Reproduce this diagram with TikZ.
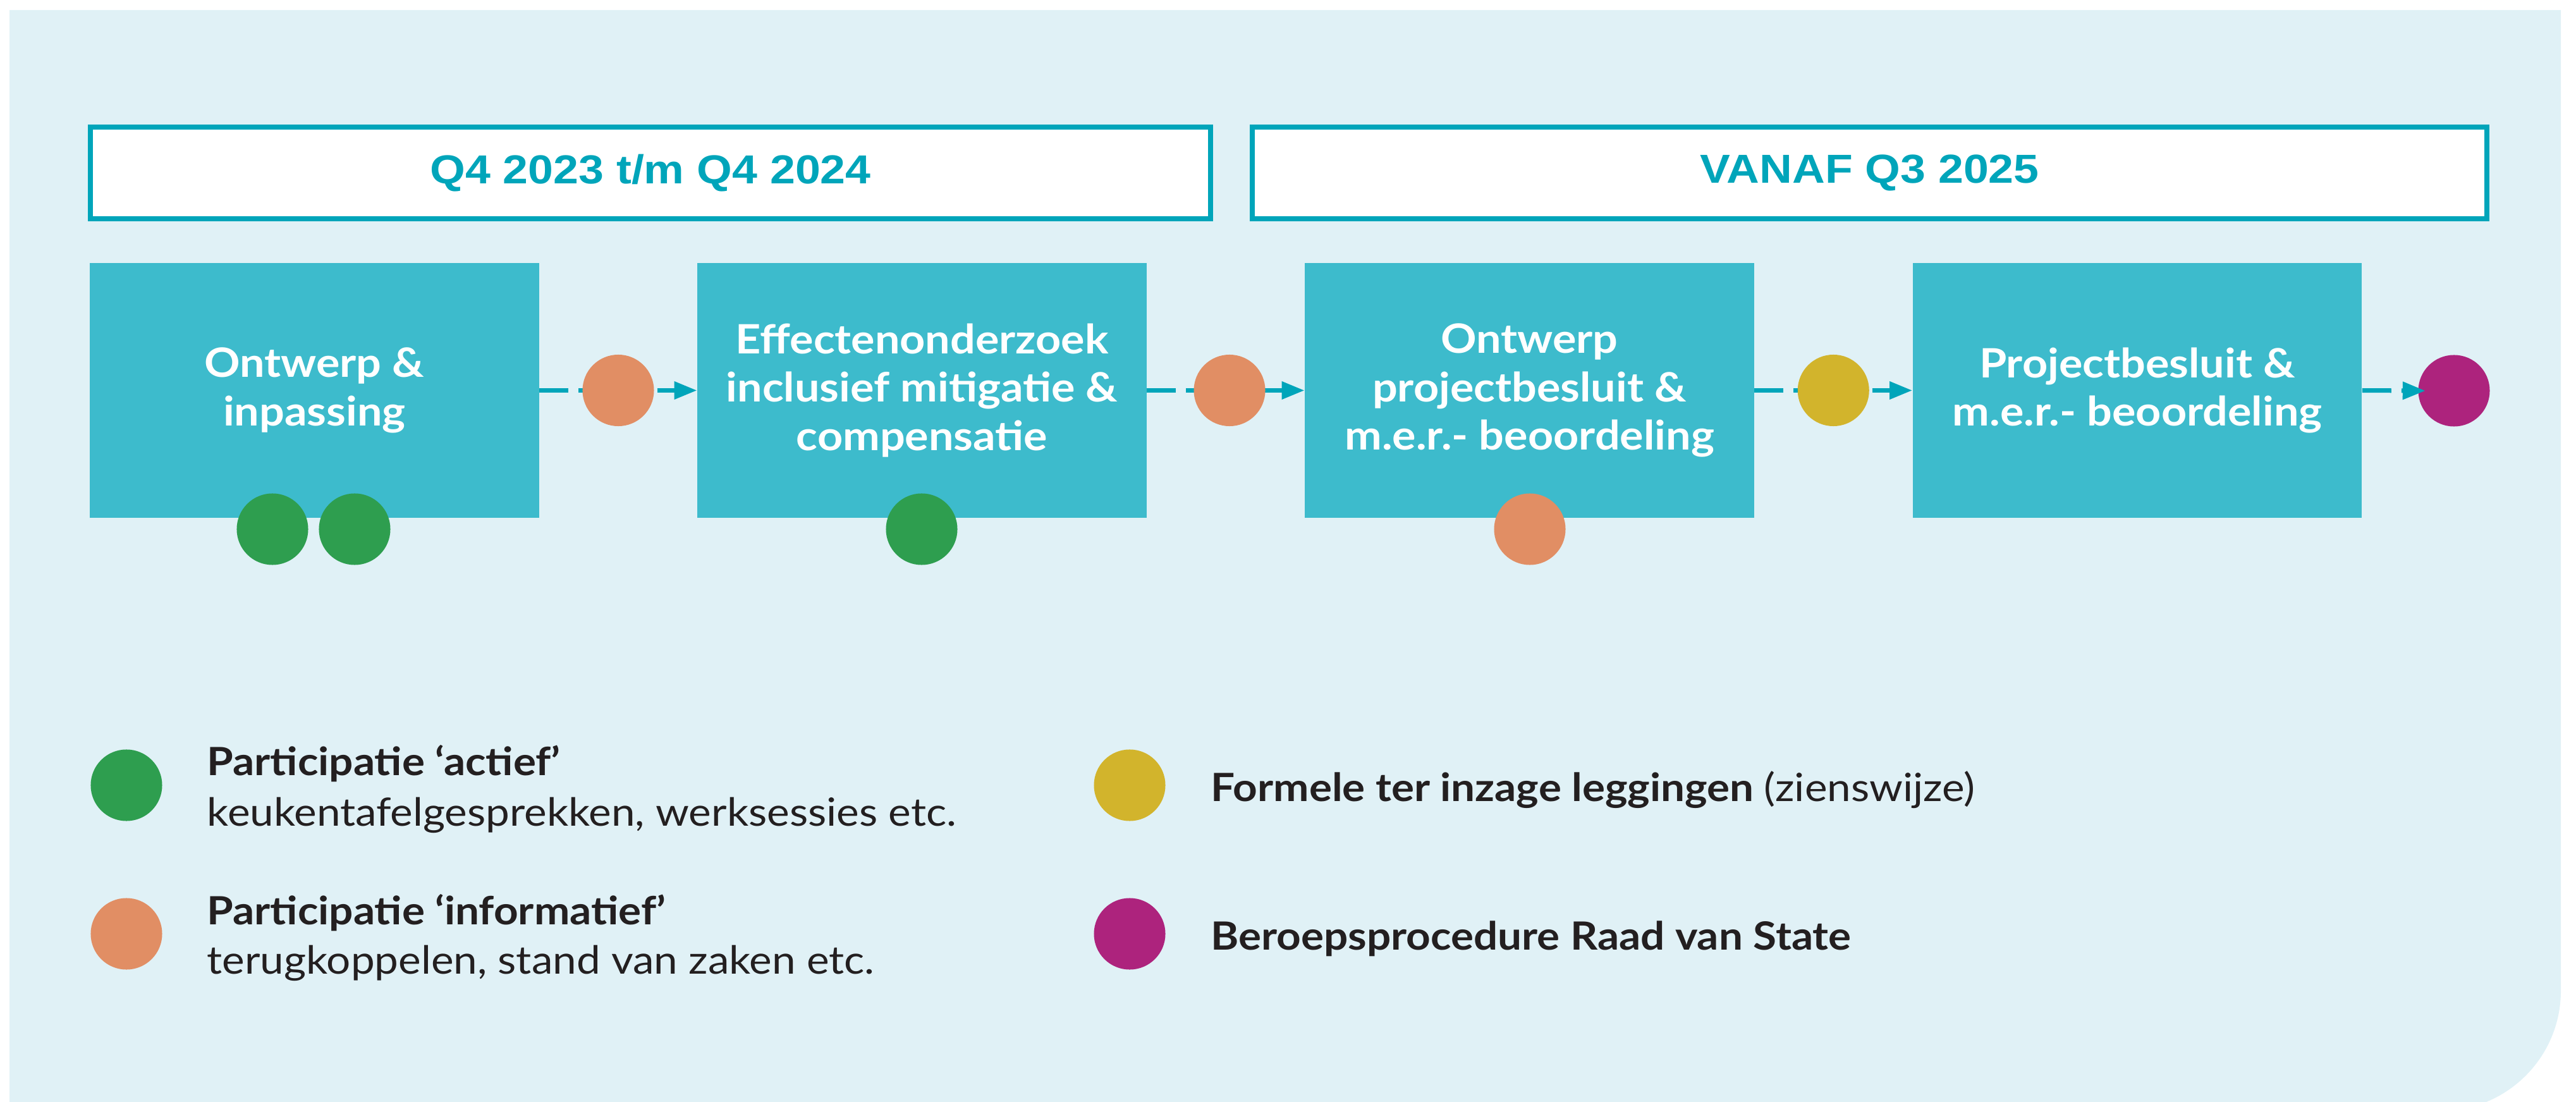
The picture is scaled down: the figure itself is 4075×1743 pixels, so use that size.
\documentclass[tikz,border=0pt]{standalone}
\usepackage{fontspec}
\setmainfont[FakeStretch=1.095]{Lato}
\newfontfamily\headfont[FakeStretch=1.12]{Liberation Sans}
\usepackage{tikz}
\usetikzlibrary{positioning, calc, arrows.meta}
\definecolor{bgblue}{RGB}{224,241,246}
\definecolor{boxblue}{RGB}{61,187,204}
\definecolor{darkteal}{RGB}{0,165,186}
\definecolor{dotgreen}{RGB}{46,158,79}
\definecolor{dotorange}{RGB}{225,142,100}
\definecolor{dotyellow}{RGB}{210,180,44}
\definecolor{dotmagenta}{RGB}{173,35,125}
\definecolor{txtdark}{RGB}{35,31,32}

\begin{document}
\begin{tikzpicture}[x=0.01cm, y=-0.01cm,
	stepbox/.style={fill=boxblue, minimum width=7.1cm, minimum height=4.03cm, inner sep=0pt, align=center, text=white, font=\fontsize{18.2}{21.8}\selectfont\bfseries},
	headbox/.style={draw=darkteal, line width=0.08cm, fill=white, minimum height=1.45cm, text=darkteal, font=\headfont\fontsize{18.2}{21}\selectfont\bfseries},
	dot/.style={circle, minimum size=1.13cm, inner sep=0pt},
	conn/.style={darkteal, line width=0.07cm, dash pattern=on 0.46cm off 0.16cm, -{Triangle[length=0.36cm, width=0.27cm]}},
	legtitle/.style={anchor=base west, inner sep=0pt, text=txtdark, font=\fontsize{17.5}{21}\selectfont\bfseries},
	legsub/.style={anchor=base west, inner sep=0pt, text=txtdark, font=\fontsize{17.5}{21}\selectfont}]
		\useasboundingbox (0,0) rectangle (4075,1743);
		% background with one round corner
		\fill[bgblue] (15,16) -- (4051,16) -- (4051,1567) arc[start angle=0, end angle=-90, radius=1.9cm] -- (15,1757) -- cycle;
		
		% periods
		\node[headbox, minimum width=17.7cm] (h1) at (1029,273.5) {Q4 2023 t/m Q4 2024};
		\node[headbox, minimum width=19.51cm] (h2) at (2957.5,273.5) {VANAF Q3 2025};
		
		% steps
		\node[stepbox] (s1) at (497.5,617.5) {Ontwerp \&\\inpassing};
		\node[stepbox] (s2) at (1458.5,617.5) {Effectenonderzoek\\inclusief mitigatie \&\\compensatie};
		\node[stepbox] (s3) at (2419.5,617.5) {Ontwerp\\projectbesluit \&\\m.e.r.- beoordeling};
		\node[stepbox] (s4) at (3381,617.5) {Projectbesluit \&\\m.e.r.- beoordeling};
		
		\draw[conn] (s1.east) -- node[dot, fill=dotorange] (c1) {} (s2.west);
		\draw[conn] (s2.east) -- node[dot, fill=dotorange, xshift=0.06cm] (c2) {} (s3.west);
		\draw[conn] (s3.east) -- node[dot, fill=dotyellow] (c3) {} (s4.west);
		\node[dot, fill=dotmagenta] (c4) at (3882,618) {};
		\draw[conn, shorten >=-0.12cm] (s4.east) -- (c4.west);
		
		% participation below the steps
		\node[dot, fill=dotgreen] (p1) at (431,837) {};
		\node[dot, fill=dotgreen] (p2) at (561,837) {};
		\node[dot, fill=dotgreen] (p3) at (1458,837) {};
		\node[dot, fill=dotorange] (p4) at (2420,837) {};
		
		% legend
		\node[dot, fill=dotgreen] (l1) at (200,1242) {};
		\node[legtitle] (lt1) at (327,1226) {Participatie ‘actief’};
		\node[legsub] (ls1) at (327,1306) {keukentafelgesprekken, werksessies etc.};
		\node[dot, fill=dotorange] (l2) at (200,1477) {};
		\node[legtitle] (lt2) at (327,1462) {Participatie ‘informatief’};
		\node[legsub] (ls2) at (327,1540) {terugkoppelen, stand van zaken etc.};
		\node[dot, fill=dotyellow] (l3) at (1787,1242) {};
		\node[legtitle] (lt3) at (1915,1267) {Formele ter inzage leggingen \mdseries(zienswijze)};
		\node[dot, fill=dotmagenta] (l4) at (1787,1477) {};
		\node[legtitle] (lt4) at (1915,1502) {Beroepsprocedure Raad van State};
\end{tikzpicture}
\end{document}
